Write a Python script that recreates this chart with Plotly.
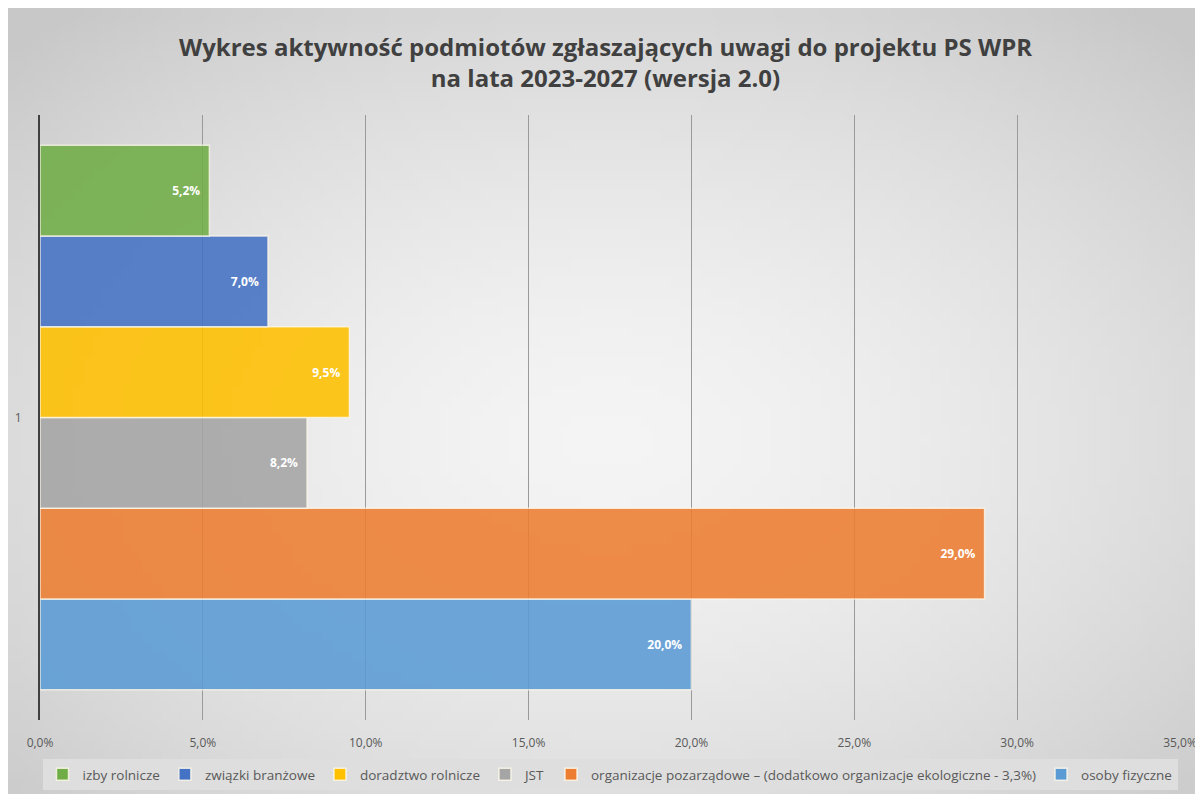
import base64, struct, zlib, math
import plotly.graph_objects as go

# ---- data ----
series = ["izby rolnicze", "związki branżowe", "doradztwo rolnicze", "JST",
          "organizacje pozarządowe – (dodatkowo organizacje ekologiczne - 3,3%)",
          "osoby fizyczne"]
values = [5.2, 7.0, 9.5, 8.2, 29.0, 20.0]
colors = ["#70ad47", "#4472c4", "#ffc000", "#a5a5a5", "#ed7d31", "#5b9bd5"]
category = ["1"]
x_ticks = [0, 5, 10, 15, 20, 25, 30, 35]
x_ticktext = [f"{v:.1f}%".replace(".", ",") for v in x_ticks]

# page body has an 8px margin, so the figure is 8px smaller than the window
W, H = 1195, 786
L, R, T, B = 32, 23, 107, 74
PW, PH = W - L - R, H - T - B

# ---- radial gradient background as PNG ----
def gradient_png(w, h):
    rows = []
    for j in range(h):
        row = bytearray([0])
        for i in range(w):
            dx = (i + 0.5) / w - 0.5
            dy = (j + 0.5) / h - 0.55
            r = math.sqrt(dx * dx + dy * dy) / math.sqrt(0.5)
            c = int(round(244 - 44 * min(1.0, r) ** 1.6))
            row += bytes([c, c, c])
        rows.append(bytes(row))
    raw = b"".join(rows)
    def chunk(t, d):
        c = struct.pack(">I", len(d)) + t + d
        return c + struct.pack(">I", zlib.crc32(t + d) & 0xffffffff)
    png = b"\x89PNG\r\n\x1a\n" + chunk(b"IHDR", struct.pack(">IIBBBBB", w, h, 8, 2, 0, 0, 0))
    png += chunk(b"IDAT", zlib.compress(raw, 9)) + chunk(b"IEND", b"")
    return "data:image/png;base64," + base64.b64encode(png).decode()

fig = go.Figure()
# add in reverse so the first series sits on top
for name, v, c in reversed(list(zip(series, values, colors))):
    fig.add_trace(go.Bar(
        y=category, x=[v], name=name, orientation="h",
        marker=dict(color=c, opacity=0.88, line=dict(color="rgba(255,250,235,0.8)", width=1.5)),
        texttemplate="%{x:.1f}%\u00a0\u00a0", textposition="inside", insidetextanchor="end",
        textfont=dict(color="white", size=12, family="Open Sans", weight="bold"),
        hoverinfo="x+name",
    ))

fig.add_layout_image(dict(
    source=gradient_png(120, 80), xref="paper", yref="paper",
    x=-L / PW, y=1 + T / PH, sizex=W / PW, sizey=H / PH,
    xanchor="left", yanchor="top", sizing="stretch", layer="below",
))

fig.update_layout(
    width=W, height=H,
    margin=dict(l=L, r=R, t=T, b=B, autoexpand=False),
    paper_bgcolor="white", plot_bgcolor="rgba(0,0,0,0)",
    separators=",.",
    barmode="group", bargap=0.1, bargroupgap=0,
    title=dict(
        text="Wykres aktywność podmiotów zgłaszających uwagi do projektu PS WPR<br>na lata 2023-2027 (wersja 2.0)",
        x=0.5, xanchor="center", y=1 - 48 / H, yanchor="middle",
        font=dict(family="Open Sans", size=24, color="#404040", weight="bold"),
    ),
    font=dict(family="Open Sans", color="#595959"),
    xaxis=dict(
        range=[0, 35], tickvals=x_ticks, ticktext=x_ticktext,
        showgrid=True, gridcolor="#9a9a9a", gridwidth=1,
        ticks="", ticklabelstandoff=14,
        tickfont=dict(size=12, color="#595959"),
        zeroline=False, showline=False, fixedrange=True, automargin=False,
    ),
    yaxis=dict(
        showline=True, linecolor="#404040", linewidth=2,
        ticks="", showgrid=False, tickfont=dict(size=12, color="#595959"),
        ticklabelstandoff=14, automargin=False,
    ),
    legend=dict(
        orientation="h", x=0.5, xanchor="center", y=-(751 - (T + PH)) / PH, yanchor="top",
        traceorder="reversed", bgcolor="#dedede", itemwidth=30,
        font=dict(size=13.5, color="#595959"),
    ),
)

fig.write_html("out.html")
